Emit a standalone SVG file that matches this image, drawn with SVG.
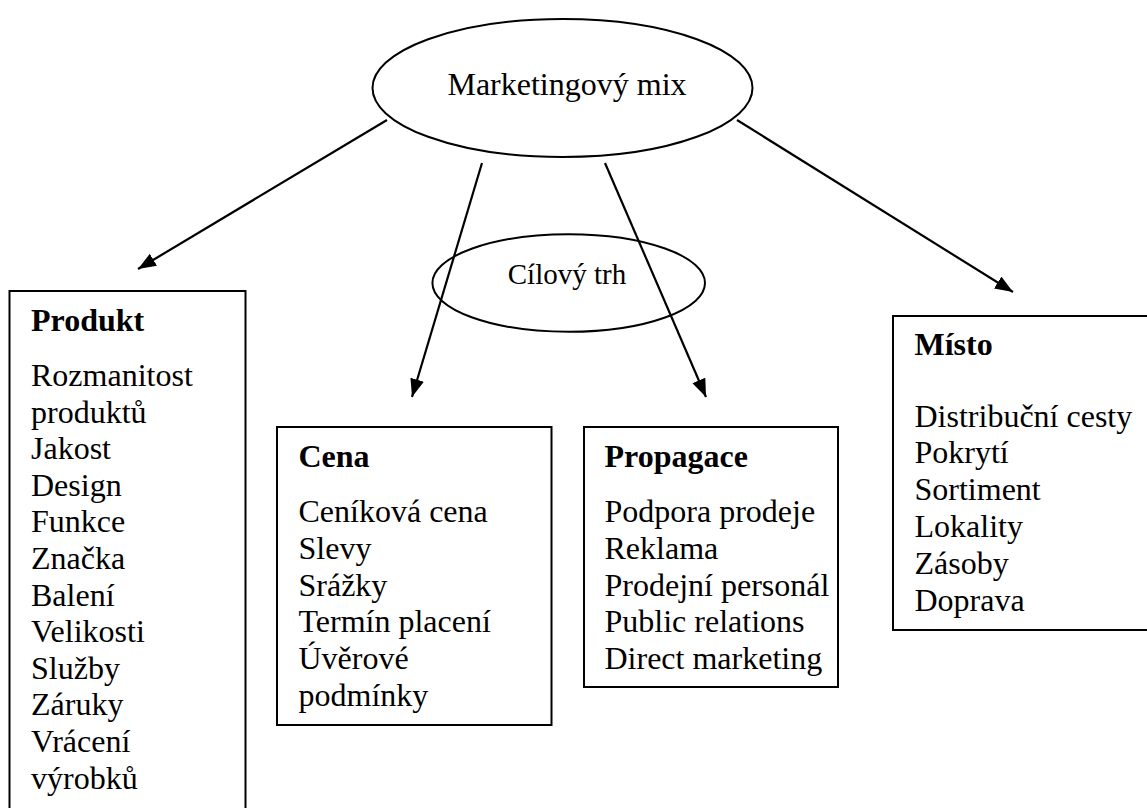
<svg xmlns="http://www.w3.org/2000/svg" width="1147" height="808" viewBox="0 0 1147 808">
<style>
.bg{fill:#fff}
.shape{fill:none;stroke:#000;stroke-width:2}
.box{fill:#fff;stroke:#000;stroke-width:2}
.t{font-family:"Liberation Serif","Times New Roman",serif;font-size:32px;fill:#000}
.h{font-family:"Liberation Serif","Times New Roman",serif;font-size:32px;font-weight:bold;fill:#000}
.c{font-family:"Liberation Serif","Times New Roman",serif;font-size:29px;fill:#000}
.conn{fill:none;stroke:#000;stroke-width:2.2}
</style>
<defs>
<marker id="arr" markerUnits="userSpaceOnUse" markerWidth="20" markerHeight="16" refX="18" refY="7" orient="auto">
<path d="M0,0 L18,7 L0,14 z" fill="#000"/>
</marker>
</defs>
<rect class="bg" x="0" y="0" width="1147" height="808"/>
<g id="connectors">
<line class="conn" x1="387" y1="120" x2="138" y2="269" marker-end="url(#arr)"/>
<line class="conn" x1="482" y1="163" x2="412" y2="397" marker-end="url(#arr)"/>
<line class="conn" x1="605" y1="163" x2="706" y2="397" marker-end="url(#arr)"/>
<line class="conn" x1="737" y1="120" x2="1013" y2="292" marker-end="url(#arr)"/>
</g>
<g id="marketing-mix">
<ellipse class="shape" cx="562.5" cy="88" rx="190" ry="69"/>
<text class="t" x="567" y="95" text-anchor="middle">Marketingový mix</text>
</g>
<g id="cilovy-trh">
<ellipse class="shape" cx="568.7" cy="283" rx="136.3" ry="48.8"/>
<text class="c" x="567" y="284" text-anchor="middle">Cílový trh</text>
</g>
<g id="produkt">
<rect class="box" x="9.5" y="291" width="236" height="540"/>
<text class="h" x="31" y="331">Produkt</text>
<text class="t" x="31" y="386">Rozmanitost</text>
<text class="t" x="31" y="422.6">produktů</text>
<text class="t" x="31" y="459.2">Jakost</text>
<text class="t" x="31" y="495.8">Design</text>
<text class="t" x="31" y="532.4">Funkce</text>
<text class="t" x="31" y="569">Značka</text>
<text class="t" x="31" y="605.6">Balení</text>
<text class="t" x="31" y="642.2">Velikosti</text>
<text class="t" x="31" y="678.8">Služby</text>
<text class="t" x="31" y="715.4">Záruky</text>
<text class="t" x="31" y="752">Vrácení</text>
<text class="t" x="31" y="788.6">výrobků</text>
</g>
<g id="cena">
<rect class="box" x="277" y="427" width="274.5" height="298"/>
<text class="h" x="298.5" y="467">Cena</text>
<text class="t" x="298.5" y="522">Ceníková cena</text>
<text class="t" x="298.5" y="558.8">Slevy</text>
<text class="t" x="298.5" y="595.6">Srážky</text>
<text class="t" x="298.5" y="632.4">Termín placení</text>
<text class="t" x="298.5" y="669.2">Úvěrové</text>
<text class="t" x="298.5" y="706">podmínky</text>
</g>
<g id="propagace">
<rect class="box" x="584" y="427" width="254" height="260"/>
<text class="h" x="604.5" y="467">Propagace</text>
<text class="t" x="604.5" y="522">Podpora prodeje</text>
<text class="t" x="604.5" y="558.8">Reklama</text>
<text class="t" x="604.5" y="595.6">Prodejní personál</text>
<text class="t" x="604.5" y="632.4">Public relations</text>
<text class="t" x="604.5" y="669.2">Direct marketing</text>
</g>
<g id="misto">
<rect class="box" x="893" y="316" width="270" height="314"/>
<text class="h" x="914.5" y="355">Místo</text>
<text class="t" x="914.5" y="426.5">Distribuční cesty</text>
<text class="t" x="914.5" y="463.3">Pokrytí</text>
<text class="t" x="914.5" y="500.1">Sortiment</text>
<text class="t" x="914.5" y="536.9">Lokality</text>
<text class="t" x="914.5" y="573.7">Zásoby</text>
<text class="t" x="914.5" y="610.5">Doprava</text>
</g>
</svg>
